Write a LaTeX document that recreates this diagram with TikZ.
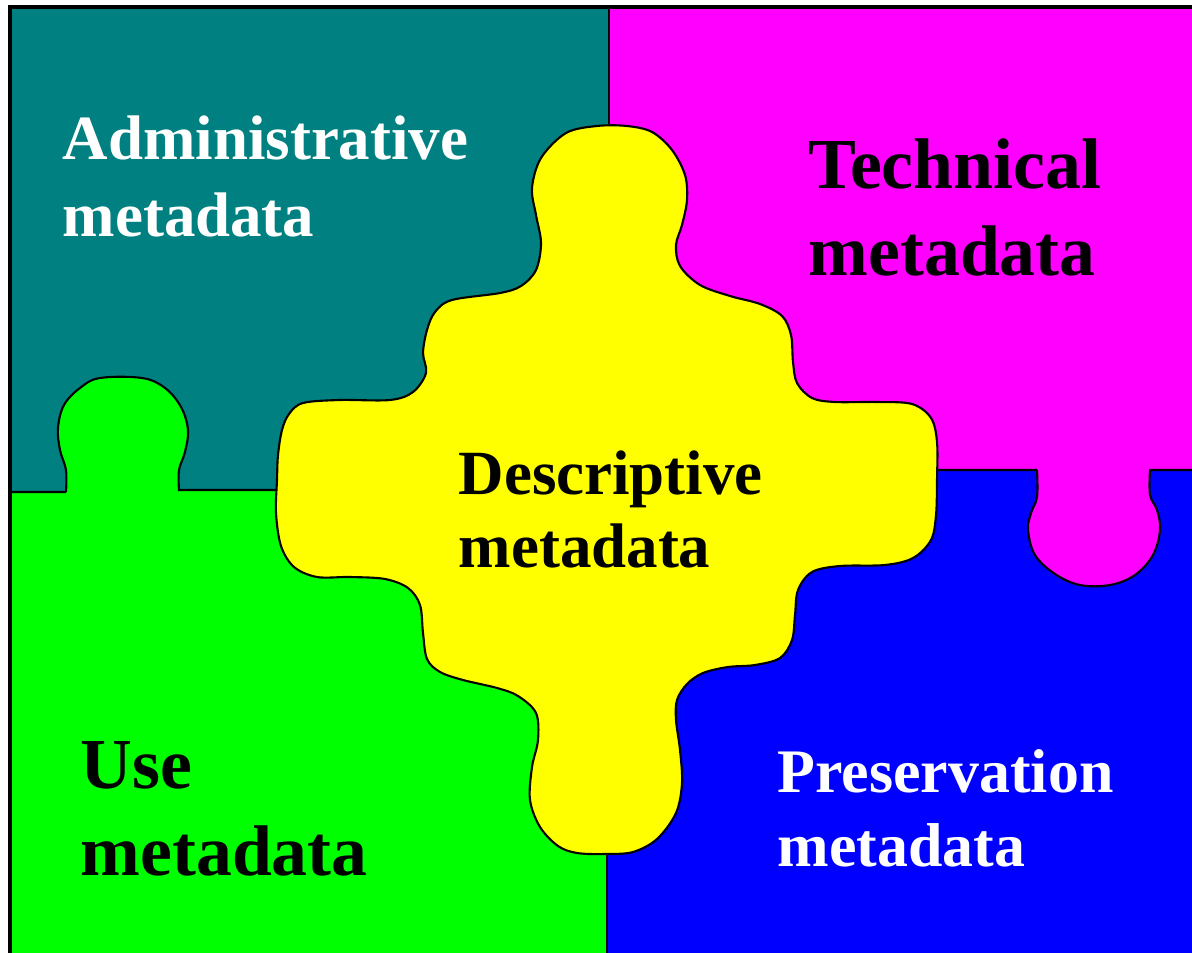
\documentclass[tikz,border=0pt]{standalone}
\usepackage{fontspec}
\setmainfont{Liberation Serif}
\usepackage{tikz}

\definecolor{admincol}{HTML}{008080}
\definecolor{techcol}{HTML}{FF00FF}
\definecolor{usecol}{HTML}{00FF00}
\definecolor{prescol}{HTML}{0000FF}
\definecolor{desccol}{HTML}{FFFF00}

\begin{document}
\begin{tikzpicture}[x=0.01cm,y=-0.01cm,
  piece/.style={draw=black,line width=0.6pt},
  tag/.style={align=left,anchor=base west,inner sep=0pt}]

\useasboundingbox (0,0) rectangle (1192,952);
\fill[white] (0,0) rectangle (1192,952);

% the four outer pieces
\fill[admincol] (10,7) rectangle (609,491);
\fill[techcol] (609,7) rectangle (1192,470);
\fill[usecol] (10,491) rectangle (607,953);
\fill[prescol] (607,470) rectangle (1193,953);

% tab of the green piece
\fill[usecol] plot[smooth,tension=0.6] coordinates {(66,492) (66,470) (60,450) (58,428)
  (64,405) (80,388) (100,378) (142,378) (165,388) (181,407) (188,430) (185,452) (179,470) (179,492)} -- cycle;
\draw[piece] (10,492) -- (66,492) plot[smooth,tension=0.6] coordinates {(66,492) (66,470) (60,450) (58,428)
  (64,405) (80,388) (100,378) (142,378) (165,388) (181,407) (188,430) (185,452) (179,470) (179,490)} -- (290,490);

% tab of the magenta piece
\fill[techcol] plot[smooth,tension=0.6] coordinates {(1037,469) (1037,497) (1031,513) (1028,530)
  (1035,555) (1055,574) (1080,585) (1110,585) (1135,575) (1153,555) (1160,530) (1157,510) (1150,495) (1150,469)} -- cycle;
\draw[piece] (920,470) -- (1037,470) plot[smooth,tension=0.6] coordinates {(1037,470) (1037,497) (1031,513) (1028,530)
  (1035,555) (1055,574) (1080,585) (1110,585) (1135,575) (1153,555) (1160,530) (1157,510) (1150,495) (1150,470)} -- (1193,470);

\draw[piece] (609,7) -- (609,140);
\draw[piece] (607,840) -- (607,953);

% outer frame
\draw[line width=1pt] (10,953) -- (10,7) -- (1193,7);

% the yellow piece in the middle
\filldraw[piece,fill=desccol] plot[smooth cycle,tension=0.55] coordinates {
  (597,126) (627,126) (652,132) (672,150) (685,175) (687,200) (682,225) (676,245)
  (680,266) (700,285) (730,296) (760,304) (782,316) (791,335) (793,362) (797,383)
  (812,398) (835,402) (877,402) (912,404) (931,418) (937,442) (937,480) (936,515)
  (931,540) (913,558) (885,565) (840,566) (812,572) (798,590) (795,615) (792,640)
  (780,658) (755,665) (728,667) (703,673) (687,684) (677,700) (676,720) (680,750)
  (682,783) (676,813) (657,839) (633,852) (605,854) (577,853) (558,846) (540,827)
  (530,800) (532,767) (538,740) (536,713) (518,696) (497,688) (463,680) (440,672)
  (427,659) (423,633) (420,605) (408,588) (385,579) (350,577) (317,577) (294,567)
  (281,546) (276,513) (277,480) (278,455) (282,430) (289,414) (303,403) (340,400)
  (390,400) (413,392) (426,373) (423,353) (427,330) (435,312) (452,300) (500,293)
  (521,286) (536,270) (541,243) (536,215) (532,188) (541,158) (566,133)};

% labels (base anchor sits on the last line)
\node[tag,text=white,font=\fontsize{17.9}{21.9}\selectfont\bfseries] (admin) at (62,237) {Administrative\\metadata};
\node[tag,text=black,font=\fontsize{20.4}{24.7}\selectfont\bfseries] (tech) at (808,275) {Technical\\metadata};
\node[tag,text=black,font=\fontsize{17.9}{20.5}\selectfont\bfseries] (desc) at (458,567) {Descriptive\\metadata};
\node[tag,text=black,font=\fontsize{20.4}{24.7}\selectfont\bfseries] (use) at (80,875) {Use\\metadata};
\node[tag,text=white,font=\fontsize{17.6}{20.8}\selectfont\bfseries] (pres) at (777,866) {Preservation\\metadata};
\end{tikzpicture}
\end{document}
